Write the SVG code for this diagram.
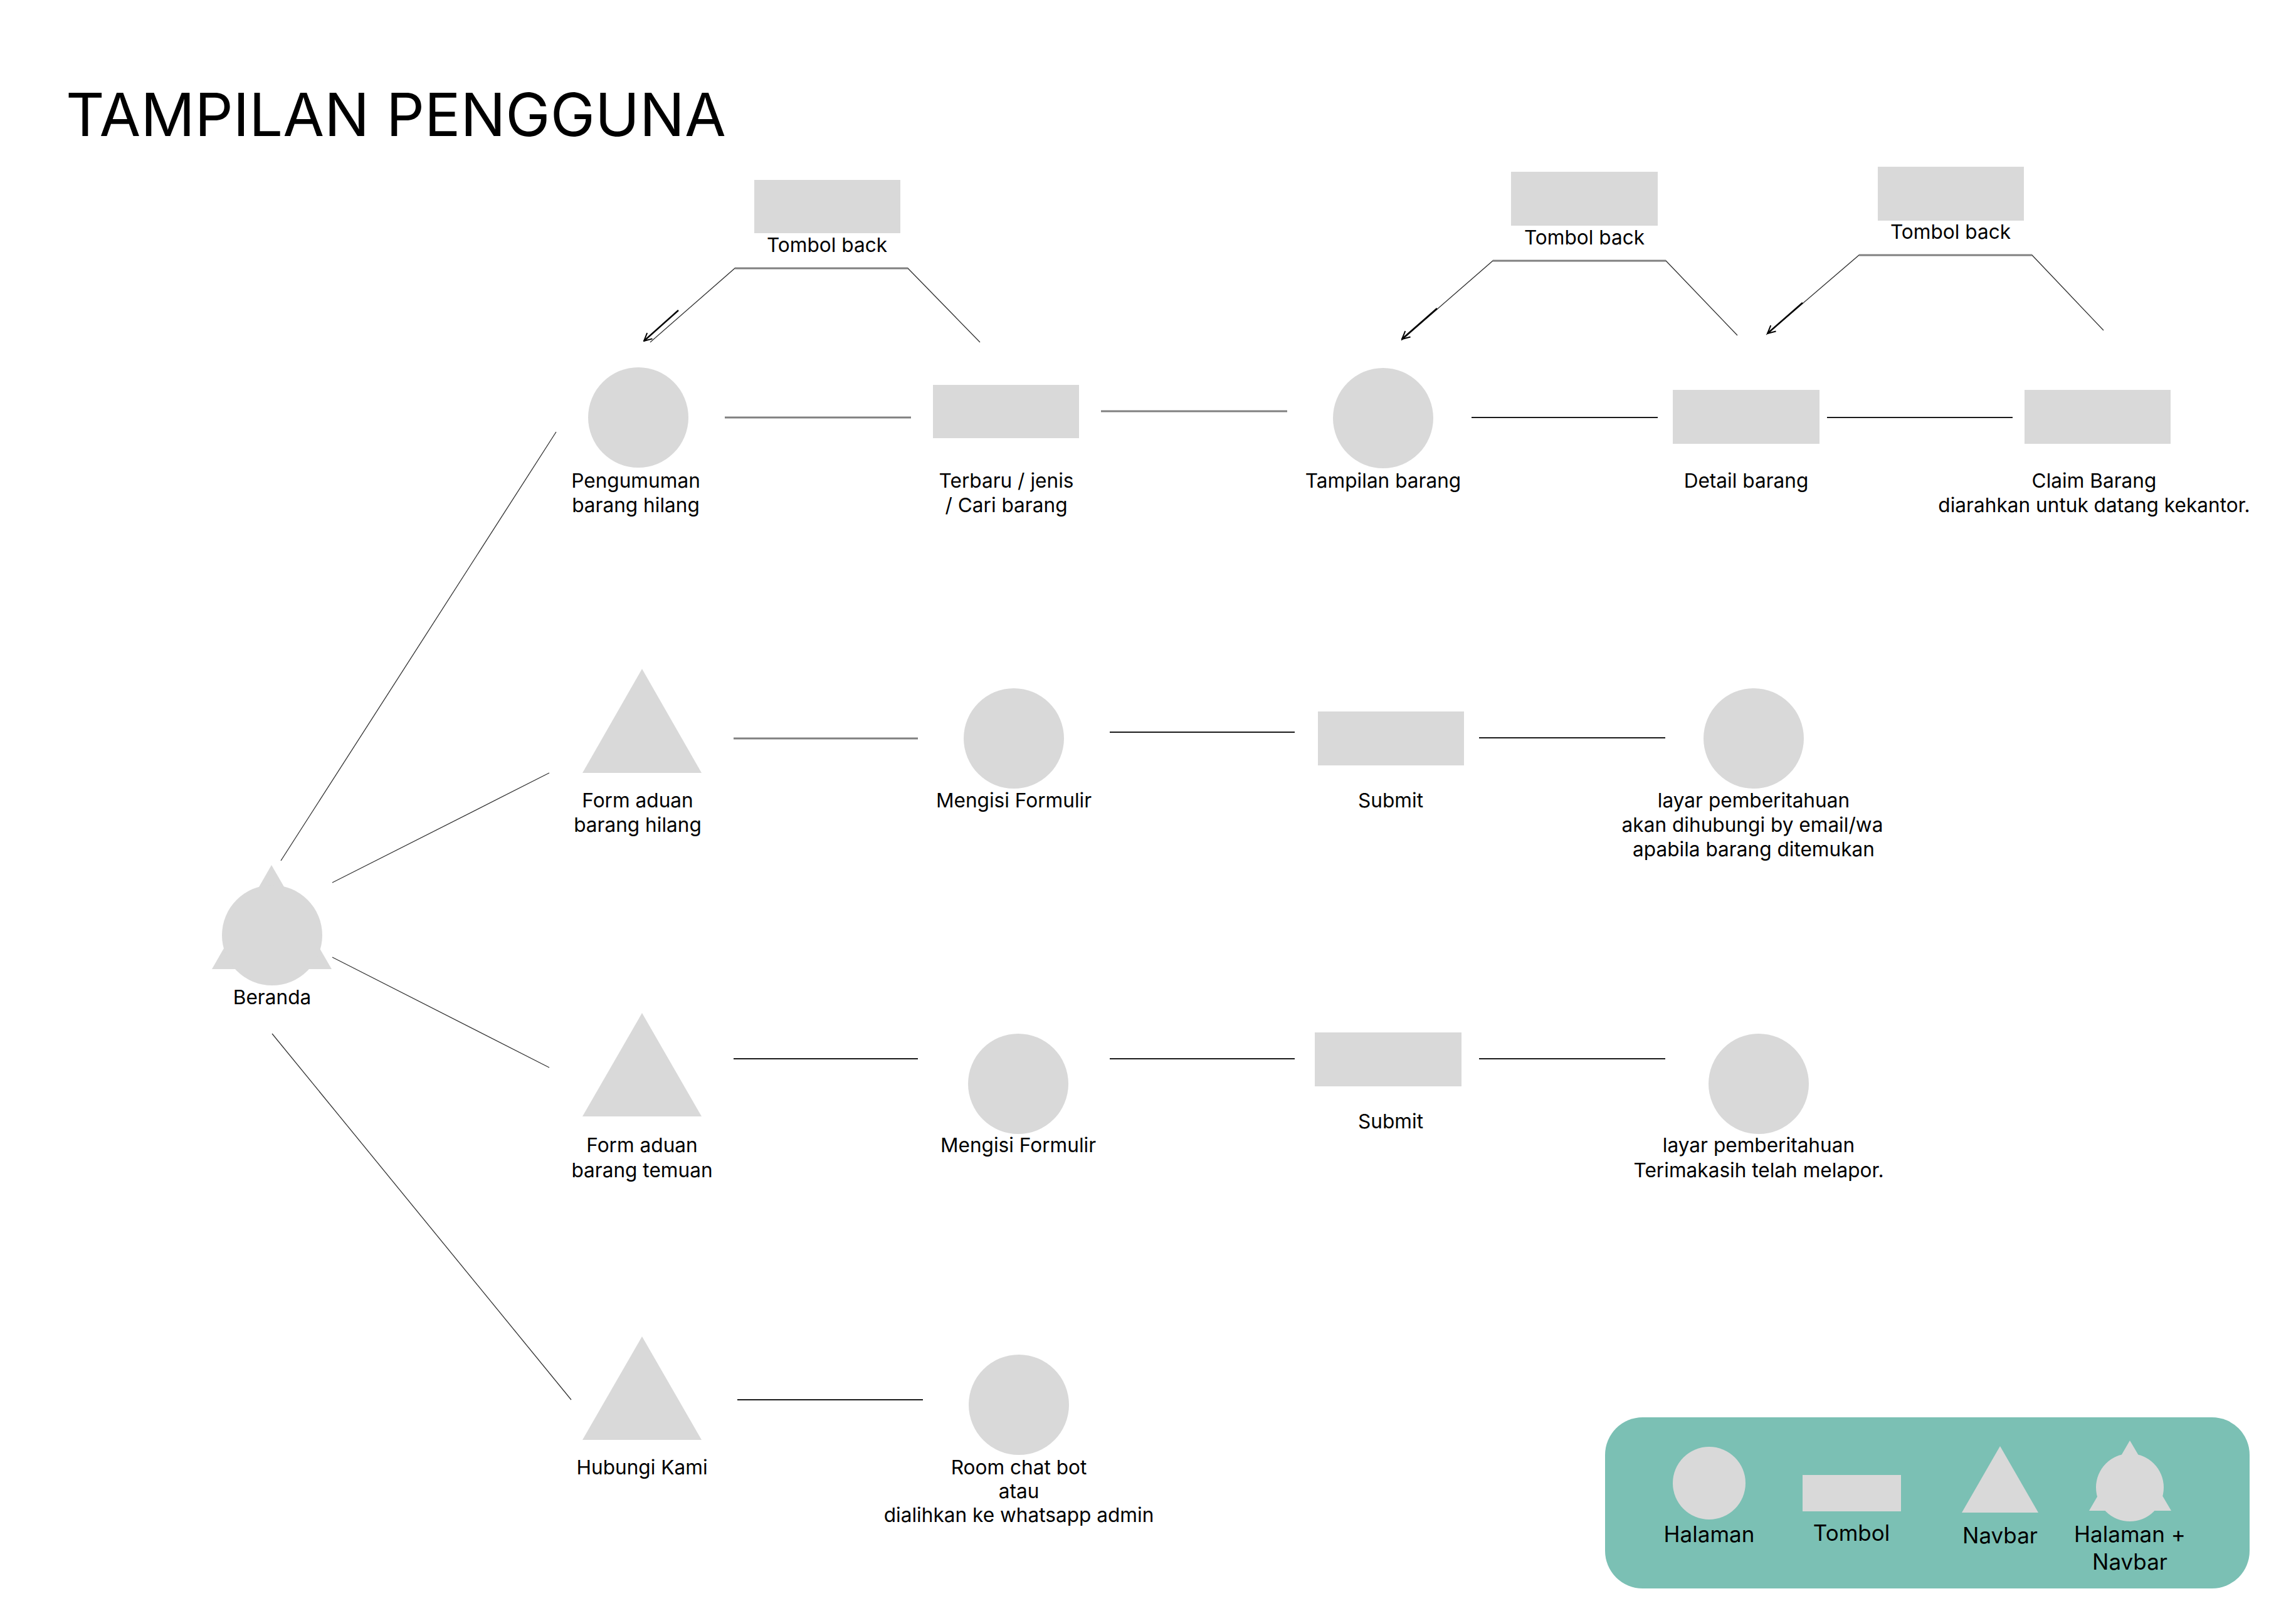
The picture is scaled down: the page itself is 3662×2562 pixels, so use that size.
<svg xmlns="http://www.w3.org/2000/svg" width="3662" height="2562" viewBox="0 0 3662 2562">
  <defs>
    <style>
      .shape { fill: #D9D9D9; }
      .lbl { font-family: Inter, "Liberation Sans", sans-serif; font-size: 31.6px; fill: #000; text-anchor: middle; }
      .leg { font-family: Inter, "Liberation Sans", sans-serif; font-size: 35px; fill: #000; text-anchor: middle; }
      .title { font-family: Inter, "Liberation Sans", sans-serif; font-size: 95.5px; fill: #000; }
      .gray { stroke: #808080; stroke-width: 3; fill: none; }
      .dark { stroke: #1a1a1a; stroke-width: 2; fill: none; }
      .thin { stroke: #333; stroke-width: 1.3; fill: none; }
      .arrow { stroke: #000; stroke-width: 2.5; fill: none; marker-end: url(#chev); }
    </style>
    <marker id="chev" viewBox="0 0 12 12" refX="11" refY="6" markerWidth="6" markerHeight="6" orient="auto" markerUnits="strokeWidth">
      <path d="M1,1 L11,6 L1,11" fill="none" stroke="#000" stroke-width="1.6"/>
    </marker>
  </defs>
  <rect width="3662" height="2562" fill="#FFFFFF"/>

  <text class="title" x="105" y="217">TAMPILAN PENGGUNA</text>

  <!-- connectors -->
  <g id="connectors">
    <!-- from Beranda -->
    <line class="thin" x1="448" y1="1373" x2="887" y2="689"/>
    <line class="thin" x1="530" y1="1408" x2="876" y2="1233"/>
    <line class="thin" x1="530" y1="1527" x2="876" y2="1703"/>
    <line class="thin" x1="434" y1="1649" x2="911" y2="2233"/>

    <!-- row 1 -->
    <line class="gray" x1="1156" y1="666" x2="1453" y2="666"/>
    <line class="gray" x1="1756" y1="656" x2="2053" y2="656"/>
    <line class="dark" x1="2347" y1="666" x2="2644" y2="666"/>
    <line class="dark" x1="2914" y1="666" x2="3210" y2="666"/>

    <!-- back links -->
    <polyline class="thin" points="1037,546 1172,428 1448,428 1563,546"/>
    <line class="gray" x1="1172" y1="428" x2="1448" y2="428"/>
    <line class="arrow" x1="1082" y1="495" x2="1027" y2="544"/>

    <polyline class="thin" points="2235,543 2381,416 2657,416 2771,535"/>
    <line class="gray" x1="2381" y1="416" x2="2657" y2="416"/>
    <line class="arrow" x1="2292" y1="492" x2="2236" y2="541"/>

    <polyline class="thin" points="2817,534 2965,407 3241,407 3355,527"/>
    <line class="gray" x1="2965" y1="407" x2="3241" y2="407"/>
    <line class="arrow" x1="2875" y1="483" x2="2819" y2="532"/>

    <!-- row 2 -->
    <line class="gray" x1="1170" y1="1178" x2="1464" y2="1178"/>
    <line class="dark" x1="1770" y1="1168" x2="2065" y2="1168"/>
    <line class="dark" x1="2359" y1="1177" x2="2656" y2="1177"/>

    <!-- row 3 -->
    <line class="dark" x1="1170" y1="1689" x2="1464" y2="1689"/>
    <line class="dark" x1="1770" y1="1689" x2="2065" y2="1689"/>
    <line class="dark" x1="2359" y1="1689" x2="2656" y2="1689"/>

    <!-- row 4 -->
    <line class="dark" x1="1176" y1="2233" x2="1472" y2="2233"/>
  </g>

  <!-- Beranda (page + navbar) -->
  <g id="beranda">
    <polygon class="shape" points="433,1380 338,1546 529,1546"/>
    <circle class="shape" cx="434" cy="1492" r="80"/>
    <text class="lbl" x="434" y="1602">Beranda</text>
  </g>

  <!-- row 1 -->
  <g id="pengumuman">
    <circle class="shape" cx="1018" cy="666" r="80"/>
    <text class="lbl" x="1014" y="778">Pengumuman</text>
    <text class="lbl" x="1014" y="817">barang hilang</text>
  </g>
  <g id="tombol-back-1">
    <rect class="shape" x="1203" y="287" width="233" height="85"/>
    <text class="lbl" x="1319" y="402">Tombol back</text>
  </g>
  <g id="terbaru">
    <rect class="shape" x="1488" y="614" width="233" height="85"/>
    <text class="lbl" x="1605" y="778">Terbaru / jenis</text>
    <text class="lbl" x="1605" y="817">/ Cari barang</text>
  </g>
  <g id="tampilan-barang">
    <circle class="shape" cx="2206" cy="667" r="80"/>
    <text class="lbl" x="2206" y="778">Tampilan barang</text>
  </g>
  <g id="tombol-back-2">
    <rect class="shape" x="2410" y="274" width="234" height="86"/>
    <text class="lbl" x="2527" y="390">Tombol back</text>
  </g>
  <g id="detail-barang">
    <rect class="shape" x="2668" y="622" width="234" height="86"/>
    <text class="lbl" x="2785" y="778">Detail barang</text>
  </g>
  <g id="tombol-back-3">
    <rect class="shape" x="2995" y="266" width="233" height="86"/>
    <text class="lbl" x="3111" y="381">Tombol back</text>
  </g>
  <g id="claim-barang">
    <rect class="shape" x="3229" y="622" width="233" height="86"/>
    <text class="lbl" x="3340" y="778">Claim Barang</text>
    <text class="lbl" x="3340" y="817">diarahkan untuk datang kekantor.</text>
  </g>

  <!-- row 2 -->
  <g id="form-aduan-hilang">
    <polygon class="shape" points="1024,1067 929,1233 1119,1233"/>
    <text class="lbl" x="1017" y="1288">Form aduan</text>
    <text class="lbl" x="1017" y="1327">barang hilang</text>
  </g>
  <g id="mengisi-formulir-1">
    <circle class="shape" cx="1617" cy="1178" r="80"/>
    <text class="lbl" x="1617" y="1288">Mengisi Formulir</text>
  </g>
  <g id="submit-1">
    <rect class="shape" x="2102" y="1135" width="233" height="86"/>
    <text class="lbl" x="2218" y="1288">Submit</text>
  </g>
  <g id="notif-hilang">
    <circle class="shape" cx="2797" cy="1178" r="80"/>
    <text class="lbl" x="2797" y="1288">layar pemberitahuan</text>
    <text class="lbl" x="2795" y="1327">akan dihubungi by email/wa</text>
    <text class="lbl" x="2797" y="1366">apabila barang ditemukan</text>
  </g>

  <!-- row 3 -->
  <g id="form-aduan-temuan">
    <polygon class="shape" points="1024,1616 929,1781 1119,1781"/>
    <text class="lbl" x="1024" y="1838">Form aduan</text>
    <text class="lbl" x="1024" y="1878">barang temuan</text>
  </g>
  <g id="mengisi-formulir-2">
    <circle class="shape" cx="1624" cy="1729" r="80"/>
    <text class="lbl" x="1624" y="1838">Mengisi Formulir</text>
  </g>
  <g id="submit-2">
    <rect class="shape" x="2097" y="1647" width="234" height="86"/>
    <text class="lbl" x="2218" y="1800">Submit</text>
  </g>
  <g id="notif-temuan">
    <circle class="shape" cx="2805" cy="1729" r="80"/>
    <text class="lbl" x="2805" y="1838">layar pemberitahuan</text>
    <text class="lbl" x="2805" y="1878">Terimakasih telah melapor.</text>
  </g>

  <!-- row 4 -->
  <g id="hubungi-kami">
    <polygon class="shape" points="1024,2132 929,2297 1119,2297"/>
    <text class="lbl" x="1024" y="2352">Hubungi Kami</text>
  </g>
  <g id="room-chat">
    <circle class="shape" cx="1625" cy="2241" r="80"/>
    <text class="lbl" x="1625" y="2352">Room chat bot</text>
    <text class="lbl" x="1625" y="2390">atau</text>
    <text class="lbl" x="1625" y="2428">dialihkan ke whatsapp admin</text>
  </g>

  <!-- legend -->
  <g id="legend">
    <rect x="2560" y="2261" width="1028" height="273" rx="60" ry="60" fill="#7BC0B4"/>
    <circle class="shape" cx="2726" cy="2366" r="58"/>
    <text class="leg" x="2726" y="2460">Halaman</text>
    <rect class="shape" x="2875" y="2353" width="157" height="58"/>
    <text class="leg" x="2953" y="2458">Tombol</text>
    <polygon class="shape" points="3190,2307 3129,2413 3251,2413"/>
    <text class="leg" x="3190" y="2462">Navbar</text>
    <polygon class="shape" points="3397,2298 3332,2410 3463,2410"/>
    <circle class="shape" cx="3397" cy="2373" r="54"/>
    <text class="leg" x="3397" y="2460">Halaman +</text>
    <text class="leg" x="3397" y="2504">Navbar</text>
  </g>
</svg>
